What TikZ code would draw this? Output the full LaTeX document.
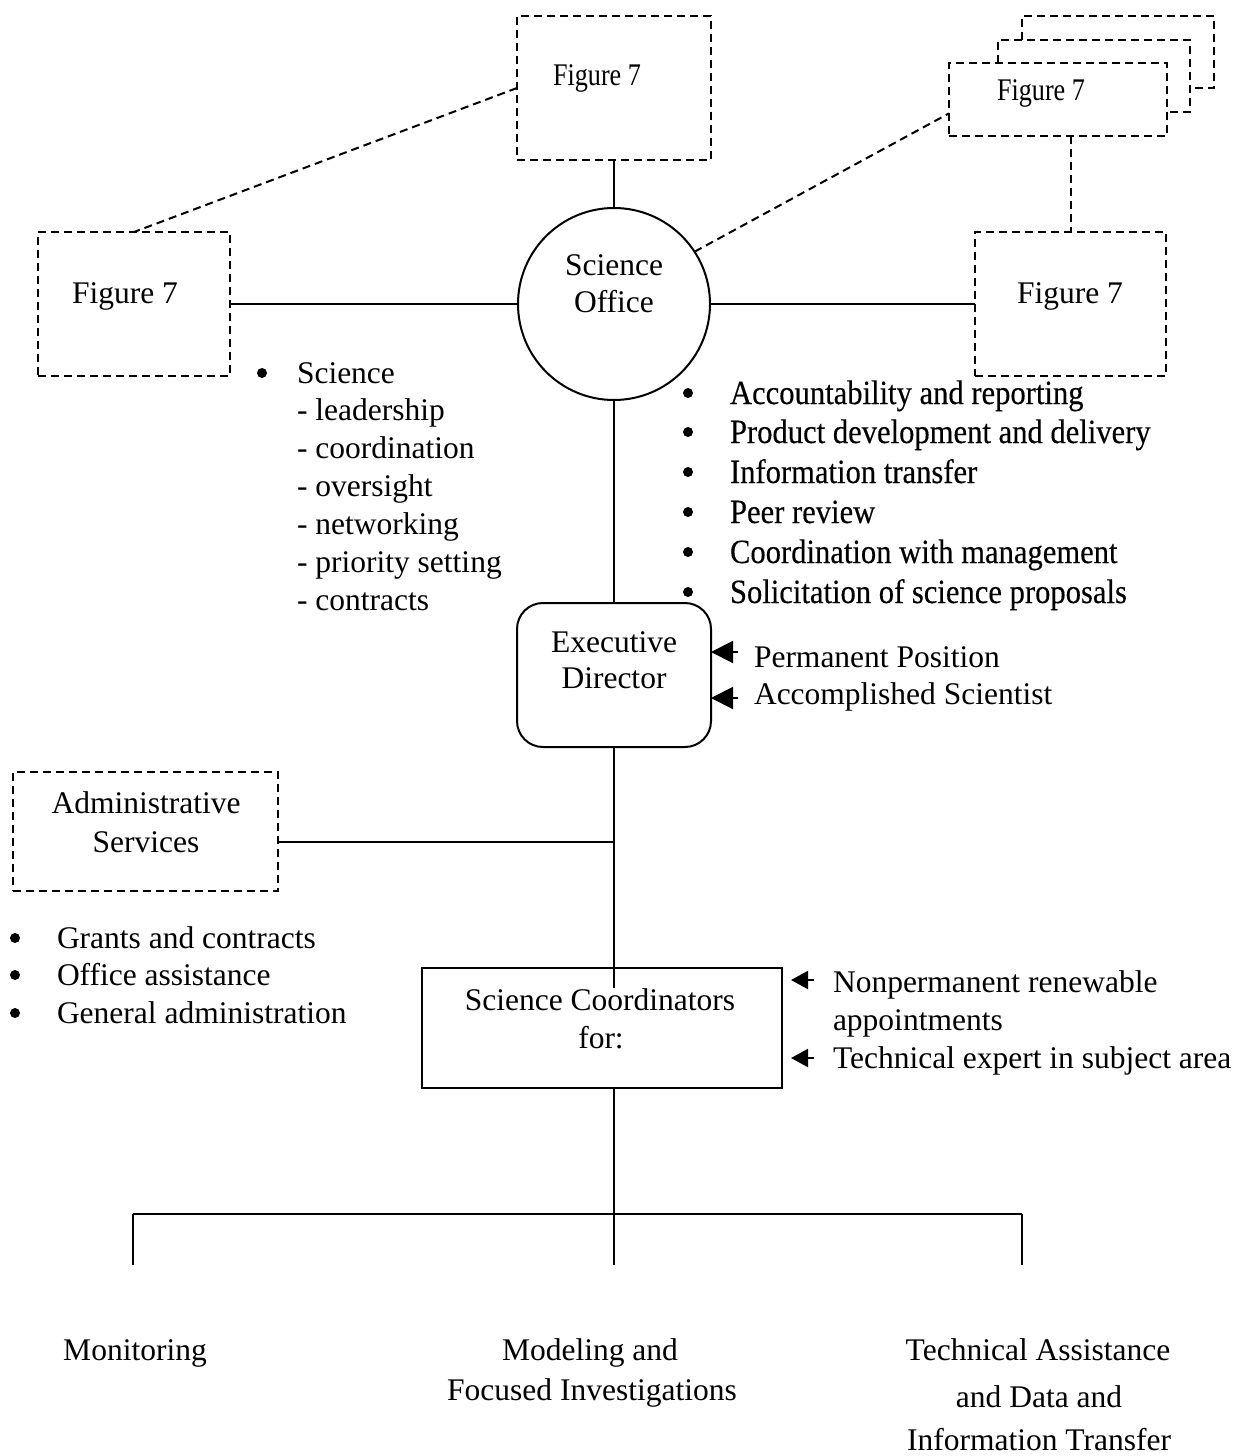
\documentclass[tikz,border=0pt]{standalone}
\usepackage{fontspec}
\setmainfont{Liberation Serif}
\newfontfamily\narrowfig[FakeStretch=0.83]{Liberation Serif}
\newfontfamily\condlist[FakeStretch=0.9,FakeBold=0.3]{Liberation Serif}
\usetikzlibrary{arrows.meta,calc}
\begin{document}
\begin{tikzpicture}[x=1pt,y=-1pt,
  every node/.style={inner sep=0pt,outer sep=0pt},
  txt/.style={font=\fontsize{31.5}{38}\selectfont, anchor=base},
  txtl/.style={txt, anchor=base west},
  figtxt/.style={font=\narrowfig\fontsize{31.5}{38}\selectfont, anchor=base},
  condtxt/.style={font=\condlist\fontsize{34}{40}\selectfont, anchor=base west},
  dot/.style={circle, fill=black, minimum size=10pt},
  solid line/.style={line width=2pt},
  dash line/.style={line width=2pt, dash pattern=on 8pt off 5pt},
  dbox/.style={draw, dash line, rectangle},
  sbox/.style={draw, solid line, rectangle},
  bigtip/.style={solid line, -{Triangle[length=22pt,width=22pt]}},
  smalltip/.style={solid line, -{Triangle[length=17pt,width=18pt]}}
]
\path[use as bounding box] (0,0) rectangle (1239,1456);

% ---- top boxes ----
\node[dbox, minimum width=194pt, minimum height=144pt] (f7t) at (614,88) {};
\node[figtxt] (f7tT) at (597,85) {Figure 7};

\node[dbox, minimum width=192pt, minimum height=144pt] (f7l) at (134,304) {};
\node[txt] (f7lT) at (125,303) {Figure 7};

\node[dbox, minimum width=191pt, minimum height=144pt] (f7r) at (1070.5,304) {};
\node[txt] (f7rT) at (1070,303) {Figure 7};

% stacked boxes (top right)
\draw[dash line] (1022,40) |- (1214,16) |- (1190,88);
\draw[dash line] (998,63) |- (1190,40) |- (1167,112);
\node[dbox, minimum width=218pt, minimum height=73pt] (stk) at (1058,99.5) {};
\node[figtxt] (stkT) at (1041,100) {Figure 7};

% ---- science office ----
\node[draw, solid line, circle, minimum size=192pt] (so) at (614,304) {};
\node[txt] (soT1) at (614,275) {Science};
\node[txt] (soT2) at (614,312) {Office};

% ---- executive director ----
\node[draw, solid line, rectangle, rounded corners=26pt, minimum width=194pt, minimum height=144pt] (ex) at (614,675) {};
\node[txt] (exT1) at (614,652) {Executive};
\node[txt] (exT2) at (614,688) {Director};

% ---- administrative services ----
\node[dbox, minimum width=265pt, minimum height=119pt] (adm) at (145.5,831.5) {};
\node[txt] (admT1) at (146,813) {Administrative};
\node[txt] (admT2) at (146,852) {Services};

% ---- science coordinators ----
\node[sbox, minimum width=360pt, minimum height=120pt] (sc) at (602,1028) {};
\node[txt] (scT1) at (600,1010) {Science Coordinators};
\node[txt] (scT2) at (601,1048) {for:};

% ---- connectors ----
\draw[solid line] (f7t.south) -- (so.north);
\draw[solid line] (f7l.east) -- (so.west);
\draw[solid line] (so.east) -- (f7r.west);
\draw[solid line] (so.south) -- (ex.north);
\coordinate (j1) at (614,842);
\coordinate (inside) at (614,988);
\draw[solid line] (ex.south) -- (j1) -- (inside);
\draw[solid line] (adm.east |- j1) -- (j1);
\draw[dash line] (f7t.west) -- (f7l.north);
\draw[dash line] (so.33) -- ($(stk.south west)!0.31!(stk.north west)$);
\draw[dash line] (stk.south -| f7r.north) -- (f7r.north);

% ---- bottom tree ----
\coordinate (bj) at (614,1214);
\coordinate (bl) at (133,1214);
\coordinate (br) at (1022,1214);
\coordinate (ml) at (133,1265);
\coordinate (mm) at (614,1265);
\coordinate (mr) at (1022,1265);
\draw[solid line] (sc.south -| bj) -- (bj);
\draw[solid line] (bl) -- (br);
\draw[solid line] (bl) -- (ml);
\draw[solid line] (bj) -- (mm);
\draw[solid line] (br) -- (mr);

\node[txt] (mon) at (135,1360) {Monitoring};
\node[txt] (mod1) at (590,1360) {Modeling and};
\node[txt] (mod2) at (592,1400) {Focused Investigations};
\node[txt] (tech1) at (1038,1360) {Technical Assistance};
\node[txt] (tech2) at (1039,1407) {and Data and};
\node[txt] (tech3) at (1039,1450) {Information Transfer};

% ---- left science list ----
\node[dot] (lb) at (262,373) {};
\node[txtl] (l1) at (297,383) {Science};
\node[txtl] (l2) at (297,420) {- leadership};
\node[txtl] (l3) at (297,458) {- coordination};
\node[txtl] (l4) at (297,496) {- oversight};
\node[txtl] (l5) at (297,534) {- networking};
\node[txtl] (l6) at (297,572) {- priority setting};
\node[txtl] (l7) at (297,610) {- contracts};

% ---- right list ----
\foreach \yy/\tt [count=\i] in {393/Accountability and reporting,432/Product development and delivery,472/Information transfer,512/Peer review,552/Coordination with management,592/Solicitation of science proposals}{
  \node[dot] (rb\i) at (688,\yy) {};
  \node[condtxt] (rl\i) at (730,\yy+11) {\tt};
}

% ---- admin list ----
\foreach \yy/\tt [count=\i] in {938/Grants and contracts,975/Office assistance,1013/General administration}{
  \node[dot] (ab\i) at (15,\yy) {};
  \node[txtl] (al\i) at (57,\yy+10) {\tt};
}

% ---- executive arrows ----
\node[txtl] (pp) at (754,667) {Permanent Position};
\node[txtl] (as) at (754,704) {Accomplished Scientist};
\coordinate (ppA) at (738,652);
\coordinate (asA) at (738,698);
\draw[bigtip] (ppA) -- (ex.east |- ppA);
\draw[bigtip] (asA) -- (ex.east |- asA);

% ---- coordinator arrows ----
\node[txtl] (np1) at (833,992) {Nonpermanent renewable};
\node[txtl] (np2) at (833,1030) {appointments};
\node[txtl] (te) at (833,1068) {Technical expert in subject area};
\coordinate (npA) at (814,980);
\coordinate (teA) at (814,1058);
\draw[smalltip] (npA) -- ($(sc.east |- npA)+(9,0)$);
\draw[smalltip] (teA) -- ($(sc.east |- teA)+(9,0)$);
\end{tikzpicture}
\end{document}
